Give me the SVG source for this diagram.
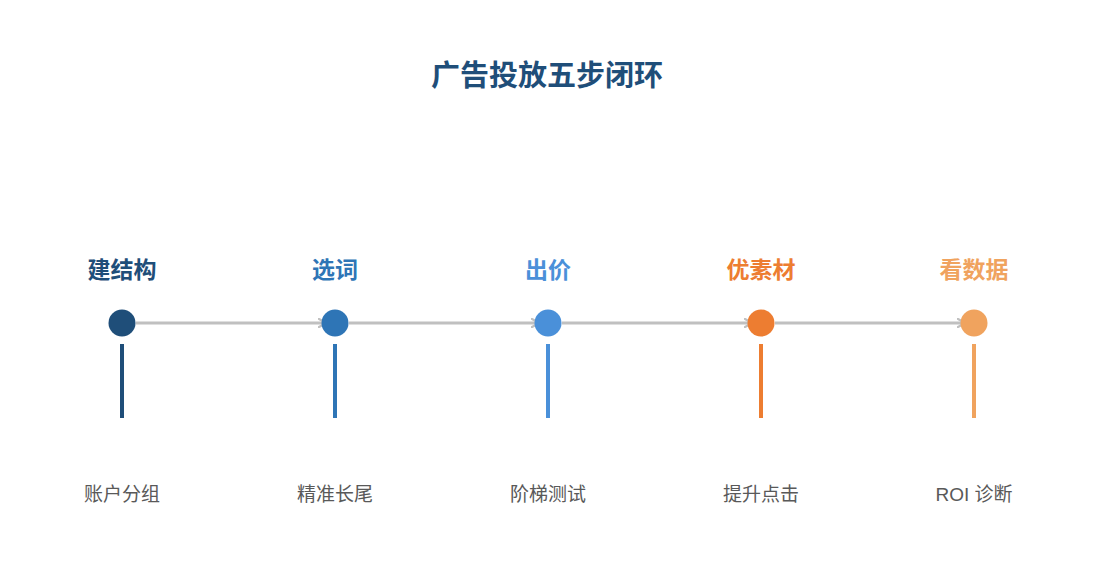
<svg xmlns="http://www.w3.org/2000/svg" width="1095" height="585" viewBox="0 0 1095 585">
<style>
text{font-family:"Liberation Sans","Noto Sans CJK SC",sans-serif;text-anchor:middle}
.title{font-size:29px;font-weight:bold;fill:#1f4e79}
.step{font-size:23px;font-weight:bold}
.desc{font-size:19px;fill:#595959}
.conn{stroke:#c0c0c0;stroke-width:3;fill:none}
.stem{stroke-width:4}
</style>
<defs>
<marker id="arr" viewBox="0 0 10 10" refX="8" refY="5" markerWidth="3.5" markerHeight="3.5" orient="auto" markerUnits="strokeWidth">
<path d="M1,1 L8,5 L1,9" fill="none" stroke="#c0c0c0" stroke-width="2.2" stroke-linecap="round"/>
</marker>
</defs>
<rect width="1095" height="585" fill="#ffffff"/>
<text class="title" x="547" y="86">广告投放五步闭环</text>
<g id="connectors">
<line class="conn" x1="136" y1="323" x2="326" y2="323" marker-end="url(#arr)"/>
<line class="conn" x1="349" y1="323" x2="539" y2="323" marker-end="url(#arr)"/>
<line class="conn" x1="562" y1="323" x2="752" y2="323" marker-end="url(#arr)"/>
<line class="conn" x1="775" y1="323" x2="965" y2="323" marker-end="url(#arr)"/>
</g>
<g id="node1">
<text class="step" x="122" y="278" fill="#1f4e79">建结构</text>
<circle cx="122" cy="323" r="13.5" fill="#1f4e79"/>
<line class="stem" x1="122" y1="344" x2="122" y2="418" stroke="#1f4e79"/>
<text class="desc" x="122" y="501">账户分组</text>
</g>
<g id="node2">
<text class="step" x="335" y="278" fill="#2e75b6">选词</text>
<circle cx="335" cy="323" r="13.5" fill="#2e75b6"/>
<line class="stem" x1="335" y1="344" x2="335" y2="418" stroke="#2e75b6"/>
<text class="desc" x="335" y="501">精准长尾</text>
</g>
<g id="node3">
<text class="step" x="548" y="278" fill="#4a90d9">出价</text>
<circle cx="548" cy="323" r="13.5" fill="#4a90d9"/>
<line class="stem" x1="548" y1="344" x2="548" y2="418" stroke="#4a90d9"/>
<text class="desc" x="548" y="501">阶梯测试</text>
</g>
<g id="node4">
<text class="step" x="761" y="278" fill="#ed7d31">优素材</text>
<circle cx="761" cy="323" r="13.5" fill="#ed7d31"/>
<line class="stem" x1="761" y1="344" x2="761" y2="418" stroke="#ed7d31"/>
<text class="desc" x="761" y="501">提升点击</text>
</g>
<g id="node5">
<text class="step" x="974" y="278" fill="#f0a35e">看数据</text>
<circle cx="974" cy="323" r="13.5" fill="#f0a35e"/>
<line class="stem" x1="974" y1="344" x2="974" y2="418" stroke="#f0a35e"/>
<text class="desc" x="974" y="501">ROI 诊断</text>
</g>
</svg>
